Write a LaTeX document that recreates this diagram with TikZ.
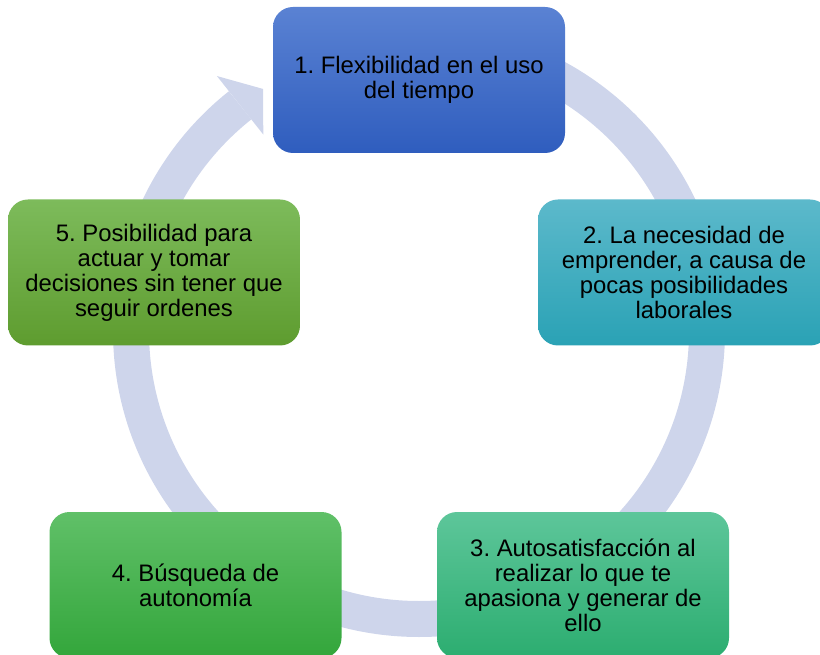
\documentclass[tikz,border=0pt]{standalone}
\usepackage{fontspec}
\setmainfont{Liberation Sans}
\frenchspacing
\definecolor{ringc}{HTML}{CED5EB}
\definecolor{b1t}{HTML}{5A82D3}\definecolor{b1b}{HTML}{2F5DBE}
\definecolor{b2t}{HTML}{5CB9CB}\definecolor{b2b}{HTML}{2AA2B5}
\definecolor{b3t}{HTML}{5DC69A}\definecolor{b3b}{HTML}{2CAD70}
\definecolor{b4t}{HTML}{60C068}\definecolor{b4b}{HTML}{33A63B}
\definecolor{b5t}{HTML}{7DBB5B}\definecolor{b5b}{HTML}{5E9C2F}
\begin{document}
\begin{tikzpicture}[x=0.75pt,y=0.75pt,
  cyclebox/.style={rectangle, rounded corners=15pt, minimum width=219pt, minimum height=109.5pt,
    align=center, inner sep=0pt, font=\fontsize{17.9}{18.75}\selectfont, text=black},
  ringline/.style={draw=ringc, line width=27pt}]
\useasboundingbox (0,0) rectangle (820,-655);
\coordinate (C) at (419,-331);
% ring with arrowhead
\draw[ringline] ([shift={(90:216pt)}]C) arc[start angle=90, end angle=-231.6, radius=216pt];
\fill[ringc] ([shift={(128.4:244pt)}]C) -- ([shift={(122.8:216pt)}]C) -- ([shift={(128.4:188pt)}]C) -- cycle;
% boxes
\node[cyclebox, top color=b1t, bottom color=b1b] (b1) at (419,-80) {1. Flexibilidad en el uso\\del tiempo};
\node[cyclebox, top color=b2t, bottom color=b2b] (b2) at (684,-272.5) {2. La necesidad de\\emprender, a causa de\\pocas posibilidades\\laborales};
\node[cyclebox, top color=b3t, bottom color=b3b] (b3) at (583,-585) {3. Autosatisfacción al\\realizar lo que te\\apasiona y generar de\\ello};
\node[cyclebox, top color=b4t, bottom color=b4b] (b4) at (195.5,-585) {4. Búsqueda de\\autonomía};
\node[cyclebox, top color=b5t, bottom color=b5b] (b5) at (154,-272.5) {5. Posibilidad para\\actuar y tomar\\decisiones sin tener que\\seguir ordenes};
\end{tikzpicture}
\end{document}
